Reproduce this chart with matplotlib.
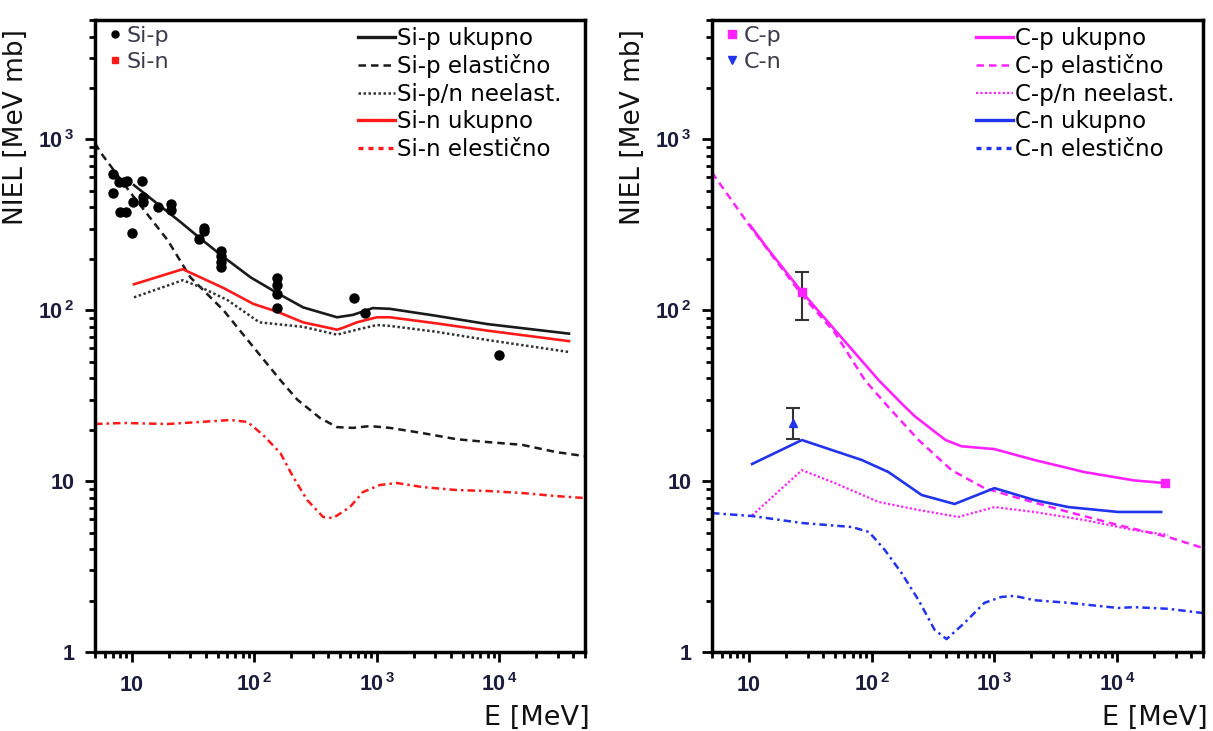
import matplotlib
matplotlib.use("Agg")
import matplotlib.pyplot as plt
from matplotlib.lines import Line2D
from matplotlib.ticker import LogLocator, NullFormatter

plt.rcParams['font.family'] = ['DejaVu Sans']
plt.rcParams['mathtext.fontset'] = 'custom'
plt.rcParams['mathtext.bf'] = 'Liberation Sans:bold'
plt.rcParams['mathtext.rm'] = 'Liberation Sans'

# ---- Si panel data (E in MeV, NIEL in MeV mb) ----
sip_tot_e = [10.4, 25, 36, 56, 93, 154, 250, 473, 638, 927, 1275, 3000, 8000, 37000]
sip_tot_v = [540, 328, 264, 205, 156, 126, 104, 91, 94, 103, 102, 93, 83, 73]

sip_el_e = [5, 5.6, 9.8, 19.6, 30, 56, 98, 163, 224, 344, 473, 638, 877, 1275, 2365, 4470, 8300, 15400, 29000, 50000]
sip_el_v = [950, 832, 485, 257, 156, 100, 61, 39, 30, 23.4, 20.7, 20.5, 21, 20.5, 19.1, 17.6, 16.9, 16.3, 14.8, 14.0]

si_inel_e = [10.4, 26, 36, 60, 110, 250, 473, 687, 1000, 1275, 3000, 8000, 37000]
si_inel_v = [119, 150, 137, 115, 85, 80, 72, 77, 82, 81, 75, 67, 57]

sin_tot_e = [10.4, 26, 56, 98, 154, 250, 473, 530, 687, 1000, 1275, 3000, 8000, 37000]
sin_tot_v = [142, 174, 135, 109, 98, 85, 77, 79, 85, 91, 91, 84, 76, 66]

sin_el_e = [5, 8.6, 19.6, 36, 64, 88, 118, 163, 207, 270, 364, 439, 603, 769, 1057, 1455, 2365, 4470, 8300, 15400, 29000, 50000]
sin_el_v = [21.6, 21.9, 21.6, 22.2, 22.8, 22.2, 18.6, 14.6, 10.6, 7.75, 6.17, 6.08, 7.05, 8.63, 9.49, 9.75, 9.23, 8.87, 8.75, 8.52, 8.18, 7.96]

sip_pts_e = [7.0, 7.0, 7.8, 8.6, 9.1, 8.0, 8.9, 10, 10.2, 12.1, 12.3, 12.3, 16.3, 20.7, 20.7,
             35, 38.5, 38.5, 53, 53, 53, 53, 154, 154, 154, 154, 650, 800, 10000]
sip_pts_v = [627, 485, 563, 563, 570, 375, 375, 283, 430, 570, 459, 430, 401, 419, 386,
             261, 303, 291, 222, 208, 191, 179, 154, 140, 124, 103, 118, 96, 55]

# ---- C panel data ----
cp_tot_e = [10.2, 14.5, 27, 57, 114, 175, 224, 325, 400, 539, 1000, 2113, 5400, 13700, 24100]
cp_tot_v = [315, 225, 128, 69, 39, 28.5, 24, 19.5, 17.4, 16.0, 15.4, 13.3, 11.3, 10.1, 9.75]

cp_el_e = [5, 10.2, 27, 50, 88, 137, 241, 447, 829, 1567, 4000, 10200, 26000, 50000]
cp_el_v = [640, 310, 123, 74, 39, 27.1, 17.4, 11.6, 9.1, 7.96, 6.6, 5.53, 4.71, 4.06]

c_inel_e = [10.6, 27, 50, 114, 241, 509, 1000, 2113, 5400, 13700, 26000]
c_inel_v = [6.3, 11.6, 9.75, 7.55, 6.78, 6.17, 7.05, 6.6, 5.92, 5.17, 4.84]

cn_tot_e = [10.6, 27, 83, 137, 255, 473, 1000, 2113, 4000, 10200, 22800]
cn_tot_v = [12.6, 17.4, 13.3, 11.3, 8.3, 7.35, 9.1, 7.75, 7.05, 6.6, 6.6]

cn_el_e = [5, 10.6, 27, 69, 95, 128, 175, 241, 325, 407, 570, 829, 1140, 1455, 2113, 4000, 10200, 13700, 26000, 50000]
cn_el_v = [6.5, 6.25, 5.69, 5.39, 5.04, 3.95, 2.9, 2.01, 1.35, 1.19, 1.48, 1.94, 2.10, 2.13, 2.01, 1.94, 1.81, 1.83, 1.79, 1.69]

cp_pts_e = [27, 24500]
cp_pts_v = [128, 9.75]
cp_err_lo = [40, 0]
cp_err_hi = [39, 0]

cn_pts_e = [23]
cn_pts_v = [21.9]
cn_err_lo = [4.3]
cn_err_hi = [4.9]

xticks = [10, 100, 1000, 10000]
xtick_labels = ['10', r'10$^{\,\mathbf{2}}$', r'10$^{\,\mathbf{3}}$', r'10$^{\,\mathbf{4}}$']
yticks = [1, 10, 100, 1000]
ytick_labels = ['1', '10', r'10$^{\,\mathbf{2}}$', r'10$^{\,\mathbf{3}}$']

BLACK = '#1a1a1a'
RED = '#ff1a1a'
MAG = '#ff22ff'
BLUE = '#2233ee'
TICKC = '#1c1c3c'
DASH = (0, (3, 2))
DOT = (0, (1, 1))
DASHDOT = (0, (3, 1.6, 1, 1.6))

fig = plt.figure(figsize=(12.13, 7.31), dpi=100)
ax1 = fig.add_axes([95 / 1213, 79 / 731, 490 / 1213, 632 / 731])
ax2 = fig.add_axes([712 / 1213, 79 / 731, 491 / 1213, 632 / 731])


def style_axes(ax):
    ax.set_xscale('log')
    ax.set_yscale('log')
    ax.set_xlim(5, 5e4)
    ax.set_ylim(1, 5000)
    for s in ax.spines.values():
        s.set_linewidth(2.5)
    ax.xaxis.set_minor_locator(LogLocator(base=10, subs=range(2, 10), numticks=20))
    ax.yaxis.set_minor_locator(LogLocator(base=10, subs=range(2, 10), numticks=20))
    ax.xaxis.set_minor_formatter(NullFormatter())
    ax.yaxis.set_minor_formatter(NullFormatter())
    ax.tick_params(axis='x', which='major', direction='out', length=7, width=2,
                   labelsize=15.5, labelcolor=TICKC, pad=21)
    ax.tick_params(axis='y', which='major', direction='out', length=7, width=2,
                   labelsize=15.5, labelcolor=TICKC, pad=8)
    ax.tick_params(which='minor', direction='out', length=4.5, width=2)
    ax.set_xticks(xticks)
    ax.set_xticklabels(xtick_labels, fontweight='bold', family='Liberation Sans', va='baseline')
    ax.set_yticks(yticks)
    ax.set_yticklabels(ytick_labels, fontweight='bold', family='Liberation Sans')
    ax.set_ylabel('NIEL [MeV mb]', fontsize=19, color='#111111')
    ax.yaxis.set_label_coords(-0.135, 0.83)
    ax.set_xlabel('E [MeV]', fontsize=19.5, color='#111111', loc='right')
    ax.xaxis.set_label_coords(1.01, -0.083)


def add_legends(ax, pt_handles, pt_labels, line_handles, line_labels):
    leg = ax.legend(pt_handles, pt_labels, loc='upper left', bbox_to_anchor=(-0.005, 1.015),
                    frameon=False, fontsize=16, handlelength=0.6, handletextpad=0.25,
                    labelspacing=0.25, borderpad=0.2, labelcolor='#3a3a4a')
    ax.add_artist(leg)
    ax.legend(line_handles, line_labels, loc='upper left', bbox_to_anchor=(0.505, 1.015),
              frameon=False, fontsize=16.5, handlelength=1.6, handletextpad=0.1,
              labelspacing=0.2, borderpad=0.2)


style_axes(ax1)
style_axes(ax2)

# ---- left: Si ----
ax1.plot(sip_tot_e, sip_tot_v, color=BLACK, lw=1.9)
ax1.plot(sip_el_e, sip_el_v, color=BLACK, lw=1.8, linestyle=DASH)
ax1.plot(si_inel_e, si_inel_v, color='#333333', lw=1.8, linestyle=DOT)
ax1.plot(sin_tot_e, sin_tot_v, color=RED, lw=1.9)
ax1.plot(sin_el_e, sin_el_v, color=RED, lw=1.8, linestyle=DASHDOT)
ax1.plot(sip_pts_e, sip_pts_v, 'o', color='black', markersize=6.5, linestyle='none')

add_legends(
    ax1,
    [Line2D([], [], marker='o', color='black', markersize=5, linestyle='none'),
     Line2D([], [], marker='s', color=RED, markersize=5, linestyle='none')],
    ['Si-p', 'Si-n'],
    [Line2D([], [], color=BLACK, lw=2.4),
     Line2D([], [], color=BLACK, lw=1.8, linestyle=DASH),
     Line2D([], [], color='#333333', lw=1.8, linestyle=DOT),
     Line2D([], [], color=RED, lw=2.4),
     Line2D([], [], color=RED, lw=2.4, linestyle=(0, (1.5, 1.5)))],
    ['Si-p ukupno', 'Si-p elastično', 'Si-p/n neelast.', 'Si-n ukupno', 'Si-n elestično'])

# ---- right: C ----
ax2.plot(cp_tot_e, cp_tot_v, color=MAG, lw=1.9)
ax2.plot(cp_el_e, cp_el_v, color=MAG, lw=1.8, linestyle=DASH)
ax2.plot(c_inel_e, c_inel_v, color=MAG, lw=1.6, linestyle=DOT)
ax2.plot(cn_tot_e, cn_tot_v, color=BLUE, lw=1.9)
ax2.plot(cn_el_e, cn_el_v, color=BLUE, lw=1.8, linestyle=DASHDOT)
ax2.errorbar(cp_pts_e[:1], cp_pts_v[:1], yerr=[cp_err_lo[:1], cp_err_hi[:1]], fmt='none',
             ecolor='#333333', elinewidth=1.5, capsize=5, capthick=1.5)
ax2.errorbar(cn_pts_e, cn_pts_v, yerr=[cn_err_lo, cn_err_hi], fmt='none',
             ecolor='#333333', elinewidth=1.5, capsize=5, capthick=1.5)
ax2.plot(cp_pts_e, cp_pts_v, 's', color=MAG, markersize=6, linestyle='none')
ax2.plot(cn_pts_e, cn_pts_v, '^', color=BLUE, markersize=6, linestyle='none')

add_legends(
    ax2,
    [Line2D([], [], marker='s', color=MAG, markersize=6, linestyle='none'),
     Line2D([], [], marker='v', color=BLUE, markersize=6, linestyle='none')],
    ['C-p', 'C-n'],
    [Line2D([], [], color=MAG, lw=2.4),
     Line2D([], [], color=MAG, lw=1.8, linestyle=DASH),
     Line2D([], [], color=MAG, lw=1.6, linestyle=DOT),
     Line2D([], [], color=BLUE, lw=2.4),
     Line2D([], [], color=BLUE, lw=2.4, linestyle=(0, (1.5, 1.5)))],
    ['C-p ukupno', 'C-p elastično', 'C-p/n neelast.', 'C-n ukupno', 'C-n elestično'])

fig.savefig('out.png', dpi=100)
